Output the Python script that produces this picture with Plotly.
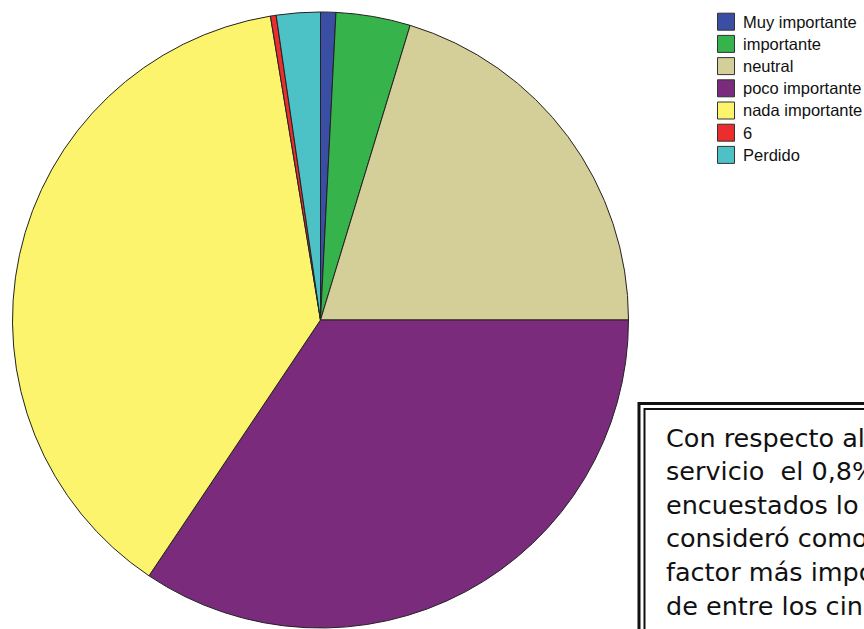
import plotly.graph_objects as go

# Categories and their shares (%)
categories = ["Muy importante", "importante", "neutral", "poco importante",
              "nada importante", "6", "Perdido"]
shares = [0.8, 3.9, 20.3, 34.4, 38.0, 0.3, 2.3]
colors = ["#3a4fa3", "#36b34b", "#d4cf99", "#7b2b7c", "#fbf46c", "#ec2d2d", "#4cc2c6"]

note_lines = ["Con respecto al", "servicio\u00a0 el 0,8%", "encuestados lo",
              "consideró como", "factor más impo", "de entre los cin"]

W, H = 864, 629


def px(x):
    return x / W


def py(y):
    return 1 - y / H


cx, cy, r = 320.5, 320.0, 308.0

fig = go.Figure(go.Pie(
    labels=categories,
    values=shares,
    sort=False,
    direction="clockwise",
    rotation=0,
    textinfo="none",
    marker=dict(colors=colors, line=dict(color="#222222", width=1)),
    domain=dict(x=[px(cx - r), px(cx + r)], y=[py(cy + r), py(cy - r)]),
    showlegend=False,
))

shapes = []
annotations = []

# Legend: swatches with labels
row0, step = 21.7, 22.2
for i, (lab, col) in enumerate(zip(categories, colors)):
    yc = row0 + step * i
    shapes.append(dict(type="rect", xref="paper", yref="paper",
                       x0=px(717.5), x1=px(734.5), y0=py(yc + 8.5), y1=py(yc - 8.5),
                       fillcolor=col, line=dict(color="#333333", width=1)))
    annotations.append(dict(text=lab, xref="paper", yref="paper",
                            x=px(741), y=py(yc), xanchor="left", yanchor="middle",
                            showarrow=False,
                            font=dict(family="Liberation Sans", size=16.5, color="#111111")))

# Double-bordered note box
shapes.append(dict(type="rect", xref="paper", yref="paper",
                   x0=px(639), x1=px(900), y0=py(700), y1=py(403.5),
                   line=dict(color="#111111", width=3), fillcolor="rgba(0,0,0,0)"))
shapes.append(dict(type="rect", xref="paper", yref="paper",
                   x0=px(644.5), x1=px(900), y0=py(700), y1=py(409),
                   line=dict(color="#111111", width=2), fillcolor="rgba(0,0,0,0)"))

line0, lstep = 437.5, 33.6
for i, t in enumerate(note_lines):
    annotations.append(dict(text=t, xref="paper", yref="paper",
                            x=px(664), y=py(line0 + lstep * i),
                            xanchor="left", yanchor="middle", showarrow=False,
                            font=dict(family="DejaVu Sans", size=25.5, color="#111111")))

fig.update_layout(
    width=W, height=H,
    margin=dict(l=0, r=0, t=0, b=0),
    paper_bgcolor="white", plot_bgcolor="white",
    shapes=shapes, annotations=annotations,
)

fig.write_html("out.html")
